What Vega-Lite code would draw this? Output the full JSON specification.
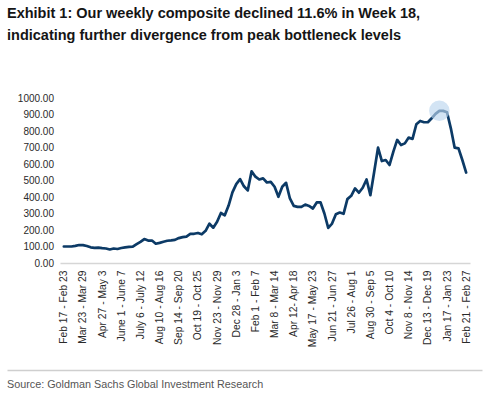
{
  "$schema": "https://vega.github.io/schema/vega-lite/v6.json",
  "background": "white",
  "padding": {"left": 7, "top": 6, "right": 5, "bottom": 2},
  "title": {
    "text": ["Exhibit 1: Our weekly composite declined 11.6% in Week 18,", "indicating further divergence from peak bottleneck levels"],
    "anchor": "start",
    "frame": "bounds",
    "font": "Liberation Sans, Arial, sans-serif",
    "fontSize": 14.5,
    "fontWeight": "bold",
    "color": "#151515",
    "lineHeight": 22,
    "offset": 49.5
  },
  "data": {
    "values": [
      {"week": "Feb 17 - Feb 23", "value": 100},
      {"week": "Feb 24 - Mar 1", "value": 100},
      {"week": "Mar 2 - Mar 8", "value": 100},
      {"week": "Mar 9 - Mar 15", "value": 104},
      {"week": "Mar 16 - Mar 22", "value": 109},
      {"week": "Mar 23 - Mar 29", "value": 108},
      {"week": "Mar 30 - Apr 5", "value": 103},
      {"week": "Apr 6 - Apr 12", "value": 95},
      {"week": "Apr 13 - Apr 19", "value": 92},
      {"week": "Apr 20 - Apr 26", "value": 93},
      {"week": "Apr 27 - May 3", "value": 90},
      {"week": "May 4 - May 10", "value": 88},
      {"week": "May 11 - May 17", "value": 82},
      {"week": "May 18 - May 24", "value": 88},
      {"week": "May 25 - May 31", "value": 85},
      {"week": "June 1 - June 7", "value": 91},
      {"week": "Jun 8 - Jun 14", "value": 95},
      {"week": "Jun 15 - Jun 21", "value": 98},
      {"week": "Jun 22 - Jun 28", "value": 99},
      {"week": "Jun 29 - Jul 5", "value": 114},
      {"week": "July 6 - July 12", "value": 128},
      {"week": "Jul 13 - Jul 19", "value": 145},
      {"week": "Jul 20 - Jul 26", "value": 136},
      {"week": "Jul 27 - Aug 2", "value": 136},
      {"week": "Aug 3 - Aug 9", "value": 117},
      {"week": "Aug 10 - Aug 16", "value": 122},
      {"week": "Aug 17 - Aug 23", "value": 129},
      {"week": "Aug 24 - Aug 30", "value": 135},
      {"week": "Aug 31 - Sep 6", "value": 137},
      {"week": "Sep 7 - Sep 13", "value": 140},
      {"week": "Sep 14 - Sep 20", "value": 151},
      {"week": "Sep 21 - Sep 27", "value": 157},
      {"week": "Sep 28 - Oct 4", "value": 160},
      {"week": "Oct 5 - Oct 11", "value": 176},
      {"week": "Oct 12 - Oct 18", "value": 177},
      {"week": "Oct 19 - Oct 25", "value": 182},
      {"week": "Oct 26 - Nov 1", "value": 174},
      {"week": "Nov 2 - Nov 8", "value": 195},
      {"week": "Nov 9 - Nov 15", "value": 238},
      {"week": "Nov 16 - Nov 22", "value": 214},
      {"week": "Nov 23 - Nov 29", "value": 250},
      {"week": "Nov 30 - Dec 6", "value": 303},
      {"week": "Dec 7 - Dec 13", "value": 289},
      {"week": "Dec 14 - Dec 20", "value": 348},
      {"week": "Dec 21 - Dec 27", "value": 428},
      {"week": "Dec 28 - Jan 3", "value": 478},
      {"week": "Jan 4 - Jan 10", "value": 508},
      {"week": "Jan 11 - Jan 17", "value": 465},
      {"week": "Jan 18 - Jan 24", "value": 440},
      {"week": "Jan 25 - Jan 31", "value": 556},
      {"week": "Feb 1 - Feb 7", "value": 523},
      {"week": "Feb 8 - Feb 14", "value": 506},
      {"week": "Feb 15 - Feb 21", "value": 513},
      {"week": "Feb 22 - Feb 28", "value": 488},
      {"week": "Mar 1 - Mar 7", "value": 492},
      {"week": "Mar 8 - Mar 14", "value": 462},
      {"week": "Mar 15 - Mar 21", "value": 401},
      {"week": "Mar 22 - Mar 28", "value": 462},
      {"week": "Mar 29 - Apr 4", "value": 486},
      {"week": "Apr 5 - Apr 11", "value": 391},
      {"week": "Apr 12- Apr 18", "value": 346},
      {"week": "Apr 19 - Apr 25", "value": 340},
      {"week": "Apr 26 - May 2", "value": 340},
      {"week": "May 3 - May 9", "value": 354},
      {"week": "May 10 - May 16", "value": 346},
      {"week": "May 17 - May 23", "value": 330},
      {"week": "May 24 - May 30", "value": 367},
      {"week": "May 31 - Jun 6", "value": 367},
      {"week": "Jun 7 - Jun 13", "value": 300},
      {"week": "Jun 14 - Jun 20", "value": 213},
      {"week": "Jun 21 - Jun 27", "value": 239},
      {"week": "Jun 28 - Jul 4", "value": 296},
      {"week": "Jul 5 - Jul 11", "value": 306},
      {"week": "Jul 12 - Jul 18", "value": 298},
      {"week": "Jul 19 - Jul 25", "value": 387},
      {"week": "Jul 26 - Aug 1", "value": 407},
      {"week": "Aug 2 - Aug 8", "value": 452},
      {"week": "Aug 9 - Aug 15", "value": 426},
      {"week": "Aug 16 - Aug 22", "value": 456},
      {"week": "Aug 23 - Aug 29", "value": 506},
      {"week": "Aug 30 - Sep 5", "value": 411},
      {"week": "Sep 6 - Sep 12", "value": 553},
      {"week": "Sep 13 - Sep 19", "value": 699},
      {"week": "Sep 20 - Sep 26", "value": 618},
      {"week": "Sep 27 - Oct 3", "value": 624},
      {"week": "Oct 4 - Oct 10", "value": 594},
      {"week": "Oct 11 - Oct 17", "value": 675},
      {"week": "Oct 18 - Oct 24", "value": 746},
      {"week": "Oct 25 - Oct 31", "value": 715},
      {"week": "Nov 1 - Nov 7", "value": 725},
      {"week": "Nov 8 - Nov 14", "value": 760},
      {"week": "Nov 15 - Nov 21", "value": 752},
      {"week": "Nov 22 - Nov 28", "value": 841},
      {"week": "Nov 29 - Dec 5", "value": 861},
      {"week": "Dec 6 - Dec 12", "value": 853},
      {"week": "Dec 13 - Dec 19", "value": 853},
      {"week": "Dec 20 - Dec 26", "value": 877},
      {"week": "Dec 27 - Jan 2", "value": 904},
      {"week": "Jan 3 - Jan 9", "value": 922},
      {"week": "Jan 10 - Jan 16", "value": 922},
      {"week": "Jan 17 - Jan 23", "value": 914},
      {"week": "Jan 24 - Jan 30", "value": 816},
      {"week": "Jan 31 - Feb 6", "value": 699},
      {"week": "Feb 7 - Feb 13", "value": 695},
      {"week": "Feb 14 - Feb 20", "value": 624},
      {"week": "Feb 21 - Feb 27", "value": 548}
    ]
  },
  "spacing": 23,
  "vconcat": [
    {
      "width": 475,
      "height": 165,
      "encoding": {
        "x": {
          "field": "week",
          "type": "ordinal",
          "sort": null,
          "scale": {"type": "point", "range": [53, 463], "padding": 1.05},
          "axis": {
            "title": null,
            "values": ["Feb 17 - Feb 23", "Mar 23 - Mar 29", "Apr 27 - May 3", "June 1 - June 7", "July 6 - July 12", "Aug 10 - Aug 16", "Sep 14 - Sep 20", "Oct 19 - Oct 25", "Nov 23 - Nov 29", "Dec 28 - Jan 3", "Feb 1 - Feb 7", "Mar 8 - Mar 14", "Apr 12- Apr 18", "May 17 - May 23", "Jun 21 - Jun 27", "Jul 26 - Aug 1", "Aug 30 - Sep 5", "Oct 4 - Oct 10", "Nov 8 - Nov 14", "Dec 13 - Dec 19", "Jan 17 - Jan 23", "Feb 21 - Feb 27"],
            "labelAngle": -90,
            "labelAlign": "right",
            "labelBaseline": "middle",
            "labelFont": "Liberation Sans, Arial, sans-serif",
            "labelFontSize": 10.3,
            "labelColor": "#2a2a2a",
            "labelPadding": 7,
            "labelOverlap": false,
            "ticks": false,
            "domainColor": "#d6d6d6",
            "domainWidth": 1.5,
            "grid": false
          }
        },
        "y": {
          "field": "value",
          "type": "quantitative",
          "scale": {"domain": [0, 1000]},
          "axis": {
            "title": null,
            "values": [0, 100, 200, 300, 400, 500, 600, 700, 800, 900, 1000],
            "format": ".2f",
            "labelFont": "Liberation Sans, Arial, sans-serif",
            "labelFontSize": 10,
            "labelColor": "#2a2a2a",
            "labelPadding": 6.5,
            "offset": -53,
            "ticks": false,
            "domain": false,
            "grid": false
          }
        }
      },
      "layer": [
        {
          "mark": {"type": "line", "color": "#0c3a66", "strokeWidth": 2.7, "strokeJoin": "round", "strokeCap": "round"}
        },
        {
          "transform": [{"filter": "datum.week == 'Jan 3 - Jan 9'"}],
          "mark": {"type": "point", "filled": true, "color": "#bcd6ee", "opacity": 0.65, "size": 420}
        }
      ]
    },
    {
      "width": 475,
      "height": 1,
      "mark": {"type": "rule", "opacity": 0},
      "encoding": {
        "x": {
          "datum": 0,
          "type": "quantitative",
          "scale": {"domain": [0, 1]},
          "axis": {
            "orient": "top",
            "title": null,
            "labels": false,
            "ticks": false,
            "grid": false,
            "domainColor": "#cfcfcf",
            "domainWidth": 1.5
          }
        }
      },
      "title": {
        "text": "Source: Goldman Sachs Global Investment Research",
        "orient": "bottom",
        "anchor": "start",
        "font": "Liberation Sans, Arial, sans-serif",
        "fontSize": 10.8,
        "fontWeight": "normal",
        "color": "#555555",
        "offset": 8
      }
    }
  ],
  "config": {"view": {"stroke": null}}
}
